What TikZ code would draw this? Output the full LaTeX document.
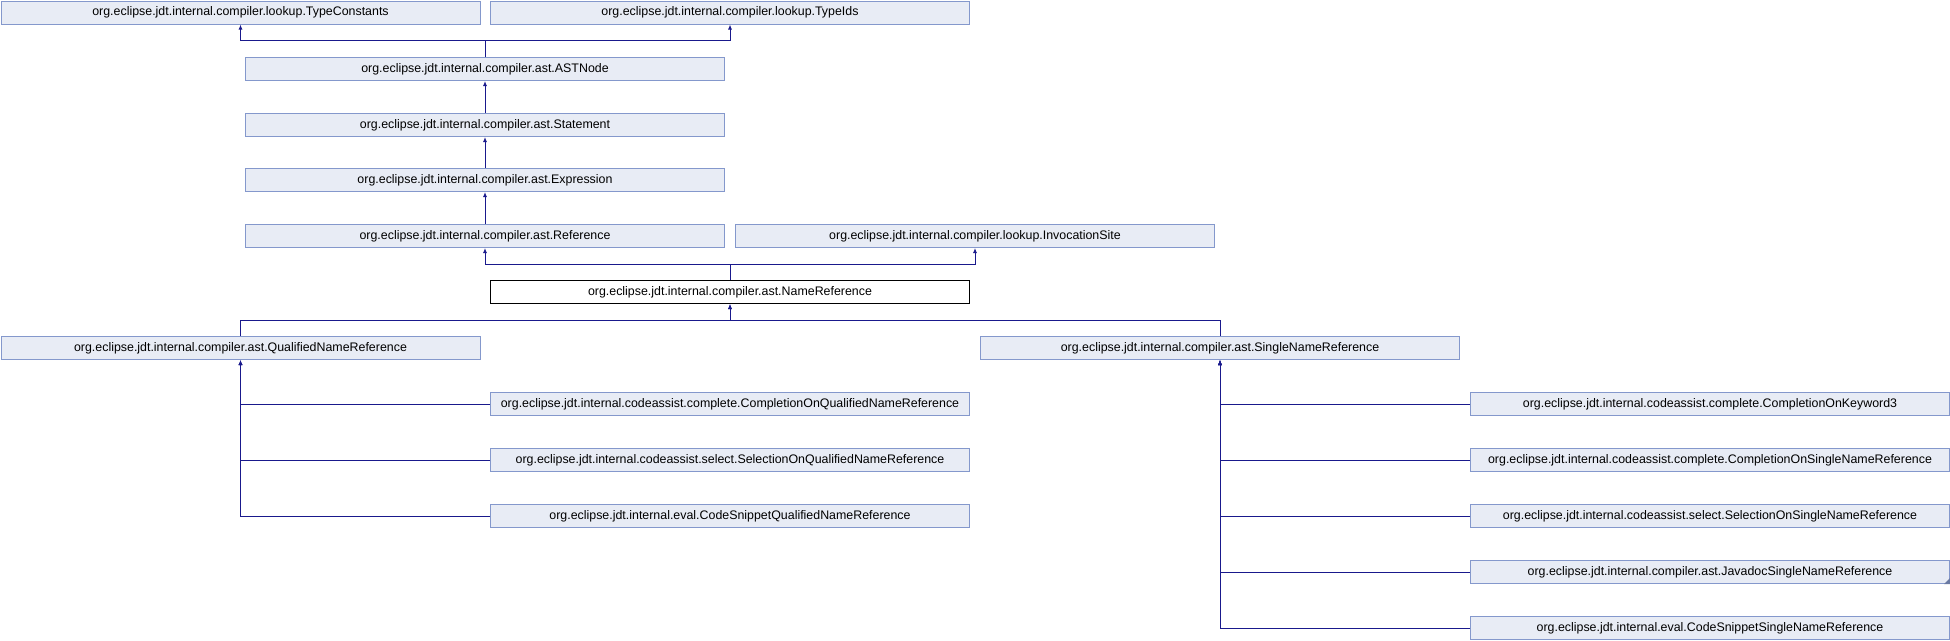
\documentclass[tikz,border=0pt]{standalone}
\usepackage{fontspec}
\setmainfont{Liberation Sans}
\usetikzlibrary{arrows.meta}
\definecolor{boxfill}{RGB}{232,236,245}
\definecolor{boxline}{RGB}{132,152,204}
\definecolor{edgecol}{RGB}{25,25,140}
\tikzset{
  cls/.style={draw=boxline, fill=boxfill, line width=1pt, rectangle, anchor=north west,
    minimum width=479pt, minimum height=23pt, inner sep=0pt,
    font=\fontsize{12.4}{14}\selectfont},
  cur/.style={cls, draw=black, fill=white},
  edge/.style={draw=edgecol, line width=0.9pt, -{Latex[length=5pt,width=4pt]}},
}
\begin{document}
\begin{tikzpicture}[x=1pt,y=-1pt]
\useasboundingbox (0,0) rectangle (1950,640);
\node[cls] (tc) at (0.5,0.5) {org.eclipse.jdt.internal.compiler.lookup.TypeConstants};
\node[cls] (ti) at (490,0.5) {org.eclipse.jdt.internal.compiler.lookup.TypeIds};
\node[cls] (ast) at (245,57) {org.eclipse.jdt.internal.compiler.ast.ASTNode};
\node[cls] (st) at (245,113) {org.eclipse.jdt.internal.compiler.ast.Statement};
\node[cls] (ex) at (245,168) {org.eclipse.jdt.internal.compiler.ast.Expression};
\node[cls] (ref) at (245,224) {org.eclipse.jdt.internal.compiler.ast.Reference};
\node[cls] (inv) at (735,224) {org.eclipse.jdt.internal.compiler.lookup.InvocationSite};
\node[cur] (nr) at (490,280) {org.eclipse.jdt.internal.compiler.ast.NameReference};
\node[cls] (qnr) at (0.5,336) {org.eclipse.jdt.internal.compiler.ast.QualifiedNameReference};
\node[cls] (snr) at (980,336) {org.eclipse.jdt.internal.compiler.ast.SingleNameReference};
\node[cls] (q1) at (490,392) {org.eclipse.jdt.internal.codeassist.complete.CompletionOnQualifiedNameReference};
\node[cls] (q2) at (490,448) {org.eclipse.jdt.internal.codeassist.select.SelectionOnQualifiedNameReference};
\node[cls] (q3) at (490,504) {org.eclipse.jdt.internal.eval.CodeSnippetQualifiedNameReference};
\node[cls] (s1) at (1470,392) {org.eclipse.jdt.internal.codeassist.complete.CompletionOnKeyword3};
\node[cls] (s2) at (1470,448) {org.eclipse.jdt.internal.codeassist.complete.CompletionOnSingleNameReference};
\node[cls] (s3) at (1470,504) {org.eclipse.jdt.internal.codeassist.select.SelectionOnSingleNameReference};
\node[cls] (s4) at (1470,560) {org.eclipse.jdt.internal.compiler.ast.JavadocSingleNameReference};
\node[cls] (s5) at (1470,616) {org.eclipse.jdt.internal.eval.CodeSnippetSingleNameReference};
\fill[boxline!80!black] (s4.south east) -- ++(0,-6) -- ++(-6,6) -- cycle;
\coordinate (m1) at (0,40);
\coordinate (m2) at (0,264);
\coordinate (m3) at (0,320);
\draw[edge] (ast.north) -- (ast.north |- m1) -| (tc.south);
\draw[edge] (ast.north) -- (ast.north |- m1) -| (ti.south);
\draw[edge] (st.north) -- (ast.south);
\draw[edge] (ex.north) -- (st.south);
\draw[edge] (ref.north) -- (ex.south);
\draw[edge] (nr.north) -- (nr.north |- m2) -| (ref.south);
\draw[edge] (nr.north) -- (nr.north |- m2) -| (inv.south);
\draw[edge] (qnr.north) -- (qnr.north |- m3) -| (nr.south);
\draw[edge] (snr.north) -- (snr.north |- m3) -| (nr.south);
\foreach \c in {q1,q2,q3} \draw[edge] (\c.west) -| (qnr.south);
\foreach \c in {s1,s2,s3,s4,s5} \draw[edge] (\c.west) -| (snr.south);
\end{tikzpicture}
\end{document}
